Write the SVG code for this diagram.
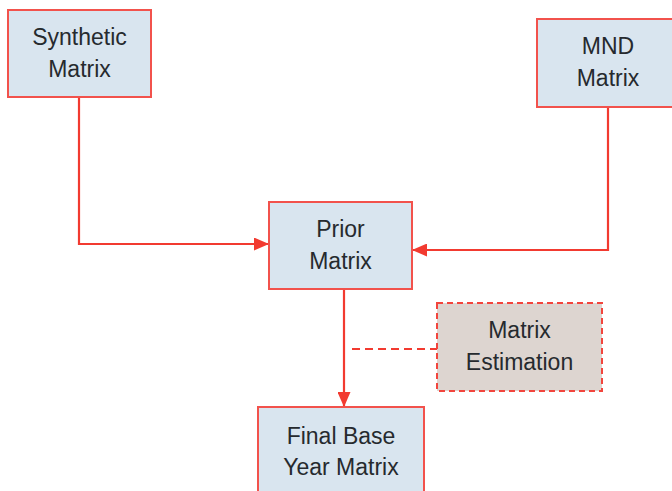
<svg xmlns="http://www.w3.org/2000/svg" width="672" height="491" viewBox="0 0 672 491">
<defs>
<marker id="ah" markerWidth="15" markerHeight="13" refX="15" refY="6.5" orient="auto" markerUnits="userSpaceOnUse">
<path d="M0,0 L15,6.5 L0,13 Z" fill="#f23a30"/>
</marker>
<style>
.box{fill:#d9e5ef;stroke:#f2524c;stroke-width:2}
.est{fill:#ddd5d0;stroke:#f2453d;stroke-width:2;stroke-dasharray:6,4}
.t{font-family:"Liberation Sans",Arial,sans-serif;font-size:23px;fill:#262a2e;text-anchor:middle}
.c{fill:none;stroke:#f23a30;stroke-width:2.2}
</style>
</defs>
<rect width="672" height="491" fill="#ffffff"/>
<g id="connectors">
<path class="c" d="M79,97 V244 H269" marker-end="url(#ah)"/>
<path class="c" d="M608,107 V250 H412" marker-end="url(#ah)"/>
<path class="c" d="M344,289 V407" marker-end="url(#ah)"/>
<path class="c" d="M352,349 H437" stroke-dasharray="8,5"/>
</g>
<g id="synthetic">
<rect class="box" x="8" y="10" width="143" height="87"/>
<text class="t" x="79.5" y="45">Synthetic</text>
<text class="t" x="79.5" y="77">Matrix</text>
</g>
<g id="mnd">
<rect class="box" x="537" y="19" width="142" height="88"/>
<text class="t" x="608" y="54">MND</text>
<text class="t" x="608" y="86">Matrix</text>
</g>
<g id="prior">
<rect class="box" x="269" y="202" width="143" height="87"/>
<text class="t" x="340.5" y="237">Prior</text>
<text class="t" x="340.5" y="269">Matrix</text>
</g>
<g id="estimation">
<rect class="est" x="437" y="303" width="165" height="88"/>
<text class="t" x="519.5" y="338">Matrix</text>
<text class="t" x="519.5" y="370">Estimation</text>
</g>
<g id="final">
<rect class="box" x="258" y="407" width="166" height="95"/>
<text class="t" x="341" y="444">Final Base</text>
<text class="t" x="341" y="475">Year Matrix</text>
</g>
</svg>
